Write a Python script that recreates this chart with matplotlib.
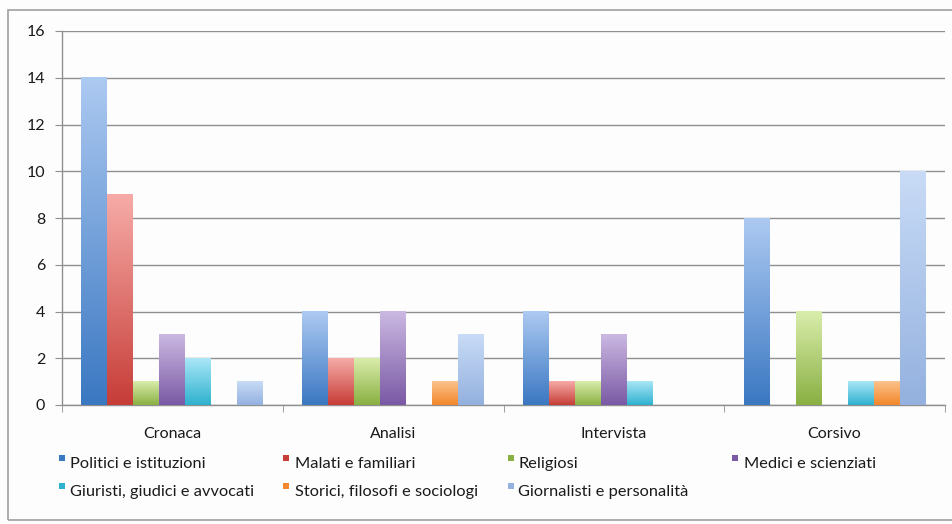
import numpy as np
import matplotlib
matplotlib.use('Agg')
import matplotlib.pyplot as plt
from matplotlib.colors import to_rgb
from matplotlib.patches import Rectangle

plt.rcParams['font.family'] = ['Lato', 'DejaVu Sans']

# categorie e serie
categorie = ['Cronaca', 'Analisi', 'Intervista', 'Corsivo']
serie = ['Politici e istituzioni', 'Malati e familiari', 'Religiosi',
         'Medici e scienziati', 'Giuristi, giudici e avvocati',
         'Storici, filosofi e sociologi', 'Giornalisti e personalità']
politici = [14, 4, 4, 8]
malati = [9, 2, 1, 0]
religiosi = [1, 2, 1, 4]
medici = [3, 4, 3, 0]
giuristi = [2, 0, 1, 1]
storici = [0, 1, 0, 1]
giornalisti = [1, 3, 0, 10]
valori = [politici, malati, religiosi, medici, giuristi, storici, giornalisti]

# colori (basso, alto) per il gradiente delle barre
colori = [('#3b78c2', '#acc9f1'),
          ('#c73d38', '#f6aba7'),
          ('#8ab043', '#d9edab'),
          ('#7a5aa5', '#cbb8e2'),
          ('#2fb2cf', '#a9e6f6'),
          ('#f3872a', '#fbc28c'),
          ('#94b1df', '#c8dbf6')]

W, H = 952, 524
fig = plt.figure(figsize=(W / 100, H / 100), dpi=100)
fig.patch.set_facecolor('#fdfdfd')
fig.patches.append(Rectangle((8 / W, 4 / H), 1.0, 510 / H, transform=fig.transFigure,
                             fill=False, edgecolor='#a0a0a0', linewidth=1.2))

ax = fig.add_axes([62 / W, 1 - 405 / H, 883 / W, 374 / H])
ax.set_facecolor('none')

w = 26 / 221
x = np.arange(len(categorie))
for i, vals in enumerate(valori):
    c0 = np.array(to_rgb(colori[i][0]))
    c1 = np.array(to_rgb(colori[i][1]))
    grad = np.linspace(0, 1, 64)[:, None]
    img = (c0 + (c1 - c0) * grad)[:, None, :]
    for j, v in enumerate(vals):
        if v <= 0:
            continue
        xc = x[j] + (i - 3) * w
        ax.imshow(img, extent=[xc - w / 2, xc + w / 2, 0, v], origin='lower',
                  aspect='auto', interpolation='bilinear', zorder=3)

ax.set_xlim(-0.5, len(categorie) - 0.5)
ax.set_ylim(0, 16)
ax.set_yticks(range(0, 17, 2))
ax.yaxis.grid(True, color='#8f8f8f', linewidth=1)
ax.set_axisbelow(True)

ax.set_xticks(x)
ax.set_xticklabels(categorie)
ax.set_xticks(np.arange(-0.5, len(categorie)), minor=True)
ax.tick_params(axis='x', which='major', length=0, pad=16, labelsize=11.5, labelcolor='#1a1a1a')
ax.tick_params(axis='x', which='minor', length=5, color='#8f8f8f', direction='out')
ax.tick_params(axis='y', length=5, color='#8f8f8f', pad=7, labelsize=11.5, labelcolor='#1a1a1a')

for s in ['top', 'right']:
    ax.spines[s].set_visible(False)
for s in ['left', 'bottom']:
    ax.spines[s].set_color('#8f8f8f')
    ax.spines[s].set_linewidth(1)

# legenda: quattro colonne, due righe
col_marker = [59, 283, 508, 732]
col_testo = [70, 295, 518, 744]
for k, nome in enumerate(serie):
    r, c = divmod(k, 4)
    top = 455 + 28 * r
    fig.patches.append(Rectangle((col_marker[c] / W, 1 - (top + 6) / H), 6 / W, 6 / H,
                                 transform=fig.transFigure, facecolor=colori[k][0],
                                 edgecolor='none'))
    fig.text(col_testo[c] / W, 1 - (468 + 28 * r) / H, nome, fontsize=11.8,
             color='#1a1a1a', ha='left', va='baseline')

fig.savefig('out.png', dpi=100, facecolor=fig.get_facecolor())
